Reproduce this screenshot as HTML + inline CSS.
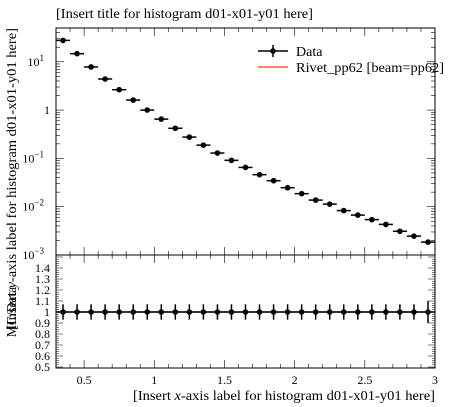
<!DOCTYPE html>
<html><head><meta charset="utf-8"><style>
html,body{margin:0;padding:0;background:#fff;width:450px;height:407px;overflow:hidden}
svg{display:block;font-family:"Liberation Serif",serif}
</style></head><body>
<svg id="c" width="450" height="407" xmlns="http://www.w3.org/2000/svg">
<text x="56" y="18" font-size="14" textLength="257" lengthAdjust="spacingAndGlyphs">[Insert title for histogram d01-x01-y01 here]</text>
<text transform="translate(16,28) rotate(-90)" text-anchor="end" font-size="13.5" textLength="302" lengthAdjust="spacingAndGlyphs">[Insert <tspan font-style="italic">y</tspan>-axis label for histogram d01-x01-y01 here]</text>
<text transform="translate(16,312) rotate(-90)" text-anchor="middle" font-size="13.5">MC/Data</text>
<text x="435" y="400" text-anchor="end" font-size="13.5" textLength="302" lengthAdjust="spacingAndGlyphs">[Insert <tspan font-style="italic">x</tspan>-axis label for histogram d01-x01-y01 here]</text>
<g id="main"></g>
<g id="ratio"></g>
<g>
<line x1="258" y1="51" x2="288" y2="51" stroke="#000" stroke-width="1.5"/>
<line x1="273" y1="45" x2="273" y2="57" stroke="#000" stroke-width="1.5"/>
<circle cx="273" cy="51" r="2.8" fill="#000"/>
<text x="296" y="56" font-size="14">Data</text>
<line x1="258" y1="67" x2="288" y2="67" stroke="#f25a3a" stroke-width="1.5"/>
<text x="296" y="72" font-size="14" textLength="148" lengthAdjust="spacingAndGlyphs">Rivet_pp62 [beam=pp62]</text>
</g>
</svg>
<script>
const binLow=[0.3,0.4,0.5,0.6,0.7,0.8,0.9,1.0,1.1,1.2,1.3,1.4,1.5,1.6,1.7,1.8,1.9,2.0,2.1,2.2,2.3,2.4,2.5,2.6,2.7,2.8,2.9];
const dataValues=[27.7,14.7,7.8,4.4,2.64,1.61,1.0,0.65,0.42,0.276,0.188,0.129,0.091,0.065,0.046,0.0345,0.0247,0.0186,0.0137,0.0113,0.0083,0.0067,0.0054,0.0043,0.0031,0.00246,0.00185];
const ratioValues=[1,1,1,1,1,1,1,1,1,1,1,1,1,1,1,1,1,1,1,1,1,1,1,1,1,1,1];
const ratioErr=[0.07,0.07,0.07,0.07,0.07,0.07,0.07,0.07,0.07,0.07,0.07,0.07,0.07,0.07,0.07,0.07,0.07,0.07,0.07,0.07,0.07,0.07,0.07,0.07,0.07,0.07,0.1];
const xTicks=[0.5,1,1.5,2,2.5,3];
const xTickLabels=["0.5","1","1.5","2","2.5","3"];
const ratioTicks=[0.5,0.6,0.7,0.8,0.9,1,1.1,1.2,1.3,1.4];

const NS="http://www.w3.org/2000/svg";
const L=56,R=435,T=28,MB=255,RB=368;
const X=v=>L+(v-0.3)/(3-0.3)*(R-L);
const YMAX=Math.log10(50),YMIN=-3;
const Y=v=>T+(YMAX-Math.log10(v))/(YMAX-YMIN)*(MB-T);
const RY=v=>312-(v-1)*110;
function el(p,tag,a){const e=document.createElementNS(NS,tag);for(const k in a)e.setAttribute(k,a[k]);p.appendChild(e);return e;}
const main=document.getElementById('main'),ratio=document.getElementById('ratio');
let f=el(main,'rect',{x:L,y:T,width:R-L,height:MB-T,fill:'none',stroke:'#000','stroke-width':1});


f=el(ratio,'rect',{x:L,y:MB,width:R-L,height:RB-MB,fill:'none',stroke:'#000','stroke-width':1});


for(let v=0.3;v<=3.001;v+=0.1){const x=X(v);const major=Math.abs(v*2-Math.round(v*2))<1e-6;const len=major?8:4;
 for(const [yt,yb] of [[T,MB],[MB,RB]]){
  let t=el(main,'line',{x1:x,x2:x,y1:yt,y2:yt+len,stroke:'#000','stroke-width':0.6});
  
  
  t=el(main,'line',{x1:x,x2:x,y1:yb,y2:yb-len,stroke:'#000','stroke-width':0.6});
  
  }}
xTicks.forEach((v,i)=>{const t=el(ratio,'text',{x:X(v),y:384,'text-anchor':'middle','font-size':12});t.textContent=xTickLabels[i];
 
 });
const yl=[["10",-3,"−3"],["10",-2,"−2"],["10",-1,"−1"],["1",0,""],["10",1,"1"]];
for(let d=-3;d<=1;d++){for(let m=1;m<10;m++){const v=m*Math.pow(10,d);if(v>50)break;const y=Y(v);const len=m==1?8:4;
 let t=el(main,'line',{x1:L,x2:L+len,y1:y,y2:y,stroke:'#000','stroke-width':0.6});
 
 
 t=el(main,'line',{x1:R,x2:R-len,y1:y,y2:y,stroke:'#000','stroke-width':0.6});
 
 }}
yl.forEach(([b,p,s])=>{const t=el(main,'text',{x:s?44:50,y:Y(Math.pow(10,p))+4,'text-anchor':'end','font-size':12});t.textContent=b;
 if(s){const sp=el(t,'tspan',{dy:-5,'font-size':9});sp.textContent=s;}
 
 });
for(let v=0.5;v<=1.52;v+=0.02){const y=RY(v);const major=Math.abs(v*10-Math.round(v*10))<1e-6;const len=major?7:3;
 let t=el(ratio,'line',{x1:L,x2:L+len,y1:y,y2:y,stroke:'#000','stroke-width':0.5});
 
 
 t=el(ratio,'line',{x1:R,x2:R-len,y1:y,y2:y,stroke:'#000','stroke-width':0.5});
 
 }
ratioTicks.forEach(v=>{const t=el(ratio,'text',{x:50,y:RY(v)+4,'text-anchor':'end','font-size':12});t.textContent=String(v);
 
 });
let rl=el(ratio,'line',{x1:L,x2:R,y1:RY(1),y2:RY(1),stroke:'#f25a3a','stroke-width':1.5});


binLow.forEach((lo,i)=>{const x0=X(lo),x1=X(lo+0.1),xc=X(lo+0.05),y=Y(dataValues[i]);
 const g=el(main,'g',{});
 
 
 el(g,'line',{x1:x0,x2:x1,y1:y,y2:y,stroke:'#000','stroke-width':1.5});
 el(g,'circle',{cx:xc,cy:y,r:2.8,fill:'#000'});
 const ry=RY(ratioValues[i]),e=ratioErr[i];
 const h=el(ratio,'g',{});
 
 
 el(h,'line',{x1:x0,x2:x1,y1:ry,y2:ry,stroke:'#000','stroke-width':1.5});
 el(h,'line',{x1:xc,x2:xc,y1:RY(1+e),y2:RY(1-e),stroke:'#000','stroke-width':1.5});
 el(h,'circle',{cx:xc,cy:ry,r:2.8,fill:'#000'});});
</script>
</body></html>
